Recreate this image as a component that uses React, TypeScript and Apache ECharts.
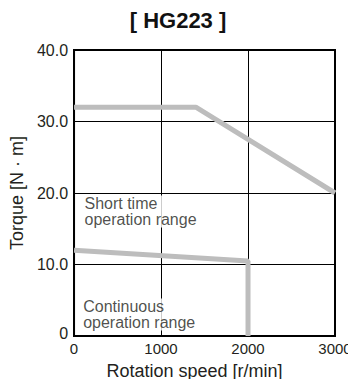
import React, { useEffect, useRef } from "react";
import * as echarts from "echarts";

const shortTimeRange: [number, number][] = [
  [0, 32],
  [1400, 32],
  [3000, 20],
];
const continuousRange: [number, number][] = [
  [0, 12],
  [2000, 10.5],
  [2000, 0],
];
const xTicks = [0, 1000, 2000, 3000];
const yTicks = [0, 10, 20, 30, 40];
const shortLabelPos: [number, number][] = [[120, 17.4]];
const contLabelPos: [number, number][] = [[105, 3.0]];

const FONT = "'Liberation Sans', Arial, Helvetica, sans-serif";

export default function App() {
  const ref = useRef<HTMLDivElement>(null);
  useEffect(() => {
    if (!ref.current) return;
    const chart = echarts.init(ref.current, undefined, { renderer: "svg" });
    const textColor = "#231f20";
    const annLabel = (text: string) => ({
      show: true,
      position: "right",
      distance: 0,
      formatter: text,
      fontFamily: FONT,
      fontSize: 16,
      lineHeight: 16,
      color: textColor,
      align: "left",
      backgroundColor: "#fff",
      padding: 0,
    });
    chart.setOption({
      animation: false,
      title: {
        text: "[ HG223 ]",
        left: "center",
        top: 4,
        textStyle: { fontFamily: FONT, fontSize: 22, fontWeight: "bold", color: "#111" },
      },
      grid: {
        left: 73,
        right: 21,
        top: 50,
        bottom: 51,
        show: true,
        borderColor: "#000",
        borderWidth: 2,
        backgroundColor: "transparent",
      },
      xAxis: {
        type: "value",
        min: xTicks[0],
        max: xTicks[xTicks.length - 1],
        interval: 1000,
        name: "Rotation speed [r/min]",
        nameLocation: "middle",
        nameGap: 26,
        nameTextStyle: {
          fontFamily: FONT,
          fontSize: 18,
          color: textColor,
          padding: [0, 20, 0, 0],
        },
        axisLine: { show: true, lineStyle: { color: "#000", width: 2 } },
        axisTick: { show: false },
        axisLabel: {
          fontFamily: FONT,
          fontSize: 15,
          color: textColor,
          margin: 5,
          formatter: (v: number) => String(v),
        },
        splitLine: { show: true, lineStyle: { color: "#000", width: 1 } },
      },
      yAxis: {
        type: "value",
        min: yTicks[0],
        max: yTicks[yTicks.length - 1],
        interval: 10,
        name: "Torque [N · m]",
        nameLocation: "middle",
        nameGap: 40,
        nameTextStyle: { fontFamily: FONT, fontSize: 18, color: textColor },
        axisLine: { show: true, lineStyle: { color: "#000", width: 2 } },
        axisTick: { show: false },
        axisLabel: {
          fontFamily: FONT,
          fontSize: 16,
          color: textColor,
          margin: 6,
          formatter: (v: number) => (v === 0 ? "{z|0}" : v.toFixed(1)),
          rich: {
            z: { fontFamily: FONT, fontSize: 16, color: textColor, padding: [0, 0, 6, 0] },
          },
        },
        splitLine: { show: true, lineStyle: { color: "#000", width: 1 } },
      },
      series: [
        {
          type: "line",
          data: shortTimeRange,
          symbol: "none",
          lineStyle: { color: "#bdbdbd", width: 5 },
          z: 3,
        },
        {
          type: "line",
          data: continuousRange,
          symbol: "none",
          lineStyle: { color: "#bdbdbd", width: 5 },
          z: 3,
        },
        {
          type: "scatter",
          data: shortLabelPos,
          symbolSize: 0,
          silent: true,
          z: 4,
          label: annLabel("Short time\noperation range"),
        },
        {
          type: "scatter",
          data: contLabelPos,
          symbolSize: 0,
          silent: true,
          z: 4,
          label: annLabel("Continuous\noperation range"),
        },
      ],
    });
    return () => chart.dispose();
  }, []);
  return <div ref={ref} style={{ width: 356, height: 387, margin: -8 }} />;
}
